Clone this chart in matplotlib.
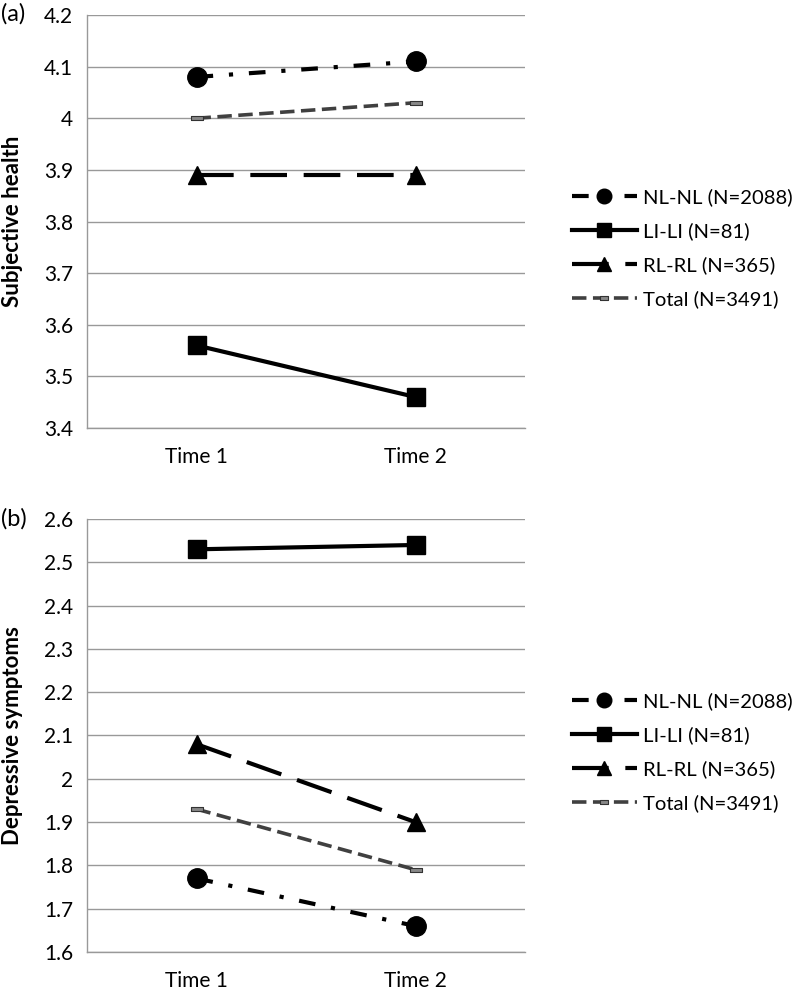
"""
Subjective health and depressive symptoms at two time points,
by language group (NL-NL, LI-LI, RL-RL) and total sample.
"""

import numpy as np
import matplotlib.pyplot as plt

plt.rcParams['font.family'] = ['Lato', 'DejaVu Sans']

# ── Data ─────────────────────────────────────────────────────
times = ['Time 1', 'Time 2']
groups = ['NL-NL (N=2088)', 'LI-LI (N=81)', 'RL-RL (N=365)', 'Total (N=3491)']

health_nl = [4.08, 4.11]
health_li = [3.56, 3.46]
health_rl = [3.89, 3.89]
health_total = [4.00, 4.03]

depr_nl = [1.77, 1.66]
depr_li = [2.53, 2.54]
depr_rl = [2.08, 1.90]
depr_total = [1.93, 1.79]

# ── Styles ───────────────────────────────────────────────────
rect = [(-1, -0.4), (1, -0.4), (1, 0.4), (-1, 0.4), (-1, -0.4)]
styles = [
    dict(color='black', lw=3, dashes=(4, 3.8, 1, 3.8), marker='o', ms=14),
    dict(color='black', lw=3, linestyle='-', marker='s', ms=13),
    dict(color='black', lw=3, dashes=(8.8, 4), marker='^', ms=13),
    dict(color='#404040', lw=2.6, dashes=(4, 1.8), marker=rect, ms=8,
         mfc='#888888', mec='#333333', mew=0.8),
]

GRID = '#999999'
FS = 15


def draw_panel(ax, series, ylim, ylabel, legend_y):
    x = np.arange(len(times))
    for vals, st, lab in zip(series, styles, groups):
        ax.plot(x, vals, label=lab, **st)
    ax.set_xlim(-0.5, 1.5)
    ax.set_ylim(*ylim)
    ax.set_yticks(np.round(np.arange(ylim[0], ylim[1] + 0.001, 0.1), 1))
    ax.yaxis.set_major_formatter(plt.FuncFormatter(lambda v, p: f'{v:g}'))
    ax.set_xticks(x)
    ax.set_xticklabels(times)
    ax.tick_params(axis='both', length=0, labelsize=FS)
    ax.tick_params(axis='y', pad=10)
    ax.tick_params(axis='x', pad=14)
    ax.grid(axis='y', color=GRID, lw=1)
    ax.set_axisbelow(True)
    for s in ['top', 'right']:
        ax.spines[s].set_visible(False)
    for s in ['left', 'bottom']:
        ax.spines[s].set_color(GRID)
        ax.spines[s].set_linewidth(1)
    ax.set_ylabel(ylabel, fontsize=16, fontweight='bold')
    ax.yaxis.set_label_coords(-0.145, 0.5)
    ax.legend(loc='center left', bbox_to_anchor=(572 / 800, legend_y),
              bbox_transform=fig.transFigure, frameon=False, fontsize=14.6,
              borderpad=0, borderaxespad=0,
              handlelength=3.2, handletextpad=0.3, labelspacing=0.8,
              markerscale=0.75)


fig = plt.figure(figsize=(8, 9.94), dpi=100)
ax_a = fig.add_axes([87 / 800, 1 - 428 / 994, 438 / 800, 413 / 994])
ax_b = fig.add_axes([87 / 800, 1 - 952 / 994, 438 / 800, 433 / 994])

draw_panel(ax_a, [health_nl, health_li, health_rl, health_total],
           (3.4, 4.2), 'Subjective health', 1 - 248 / 994)
draw_panel(ax_b, [depr_nl, depr_li, depr_rl, depr_total],
           (1.6, 2.6), 'Depressive symptoms', 1 - 752 / 994)

fig.text(1 / 800, 1 - 14 / 994, '(a)', fontsize=17, va='center', ha='left')
fig.text(1 / 800, 1 - 519 / 994, '(b)', fontsize=17, va='center', ha='left')

fig.savefig('out.png', dpi=100)
